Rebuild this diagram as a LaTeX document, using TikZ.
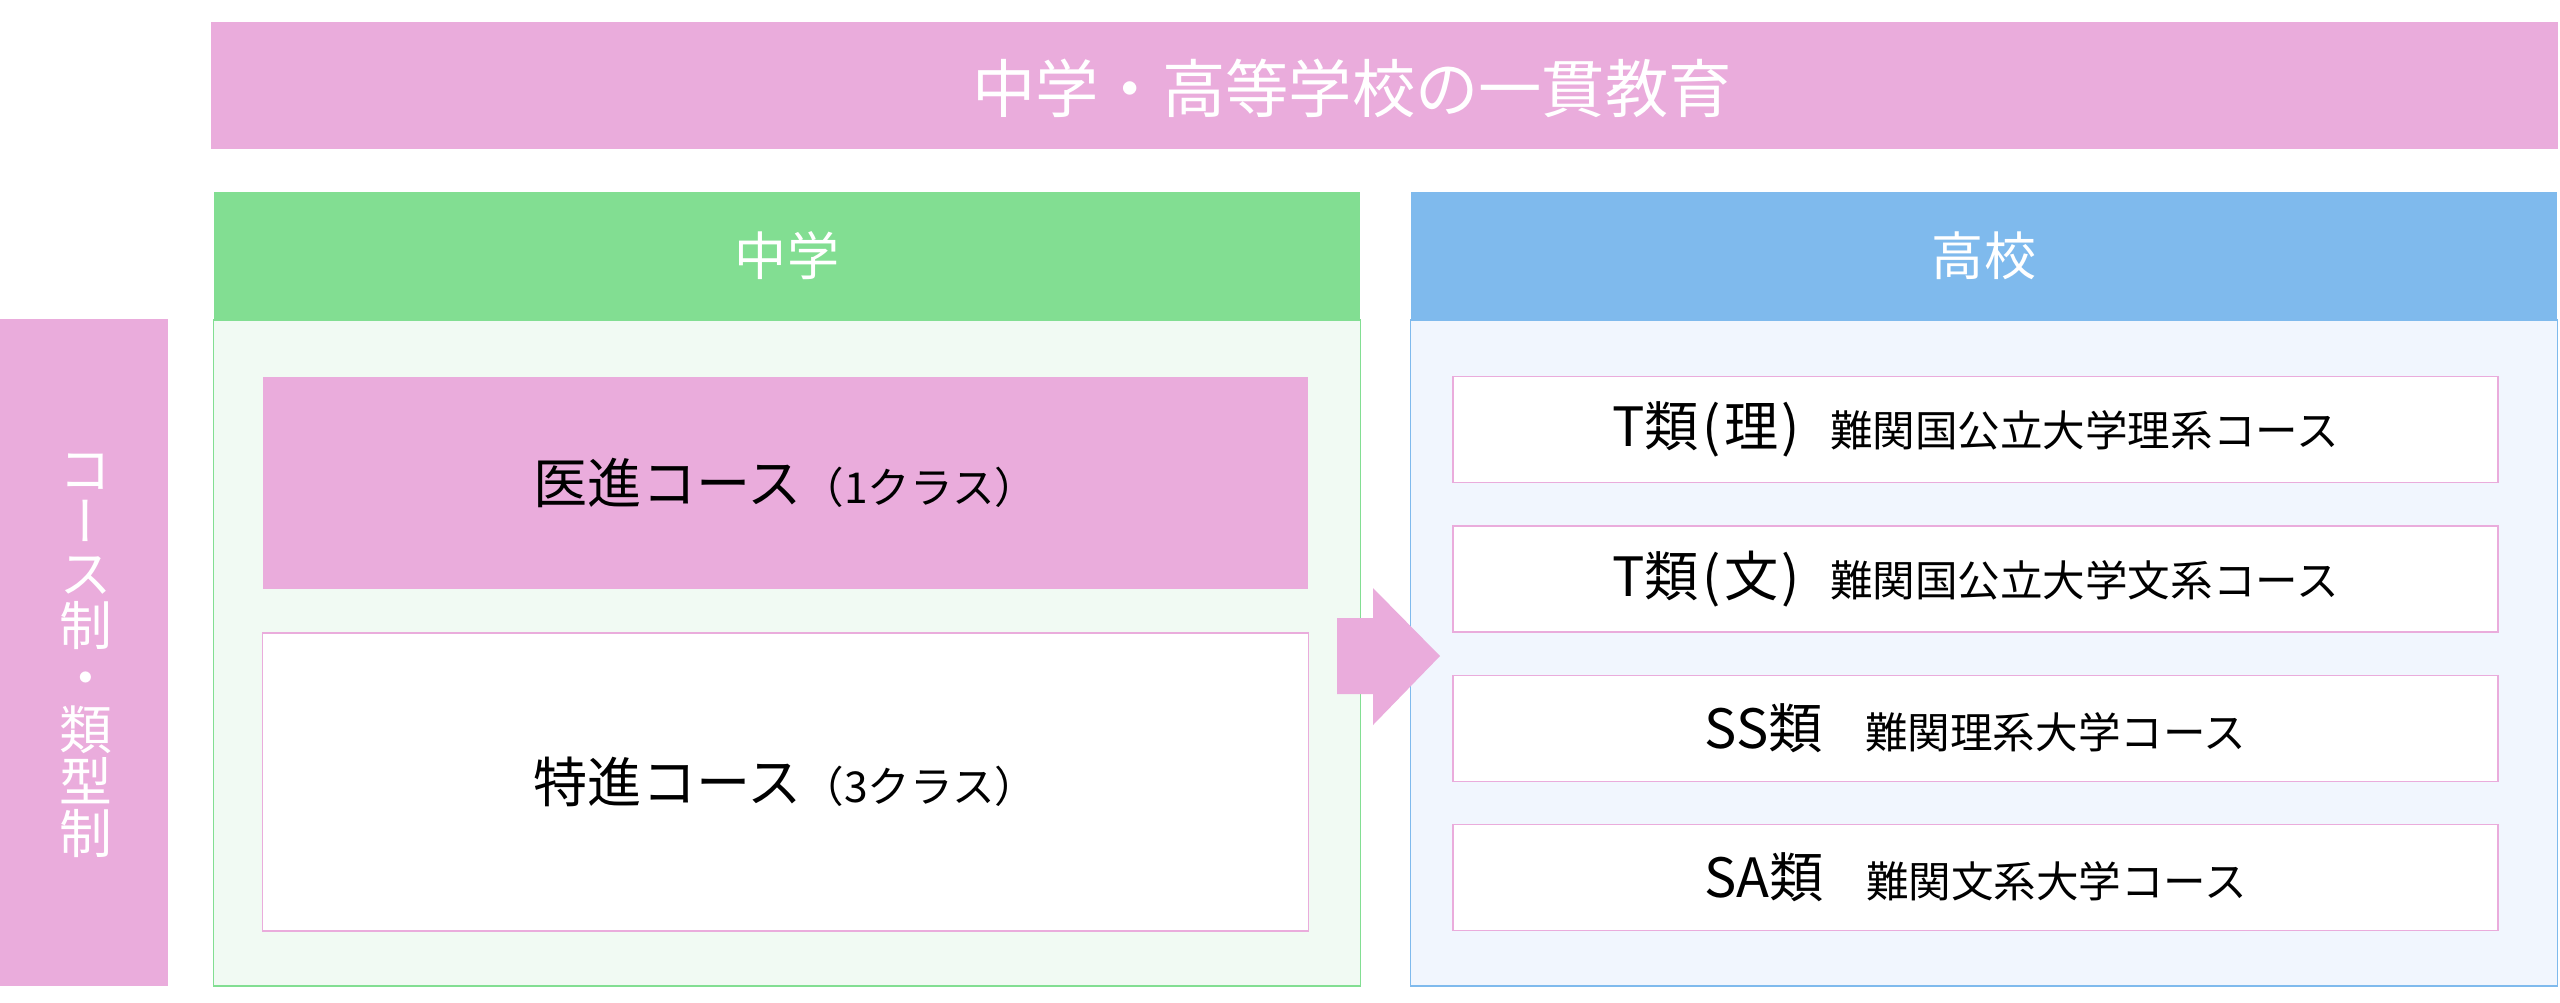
\documentclass[tikz,border=0pt]{standalone}
\usepackage{fontspec}
\setmainfont{Noto Sans CJK JP}
\newfontfamily\jpvert{Noto Sans CJK JP}[RawFeature=+vert]
\definecolor{pk}{HTML}{EAACDC}
\definecolor{gn}{HTML}{82DE92}
\definecolor{gnbg}{HTML}{F1FAF3}
\definecolor{bl}{HTML}{7FBAED}
\definecolor{blbg}{HTML}{F1F6FE}
\newcommand\fTitle{\fontsize{18}{20}\selectfont}
\newcommand\fHead{\fontsize{14.8}{17}\selectfont}
\newcommand\fBig{\fontsize{15.4}{18}\selectfont}
\newcommand\fSmall{\fontsize{12.1}{14}\selectfont}
\begin{document}
\begin{tikzpicture}[x=0.01cm,y=-0.01cm,
  rect/.style={inner sep=0pt,outer sep=0pt,anchor=center},
  band/.style={rect,minimum width=11.46cm,minimum height=1.28cm,text=white,font=\fHead},
  body/.style={rect,line width=0.45pt,minimum width=11.46cm,minimum height=6.66cm},
  course/.style={rect,minimum width=10.45cm,font=\fBig},
  rbox/.style={rect,fill=white,draw=pk,line width=0.5pt,minimum width=10.45cm,minimum height=1.06cm,font=\fBig}]
\fill[white] (0,0) rectangle (2560,1002);
\useasboundingbox (0,0) rectangle (2560,1002);
% top banner
\node[rect,fill=pk,minimum width=23.45cm,minimum height=1.27cm] (banner) at (1384.5,85.5) {};
\node[text=white,font=\fTitle,inner sep=0pt] (title) at (1352,88) {中学・高等学校の一貫教育};
% side bar
\node[rect,fill=pk,minimum width=1.68cm,minimum height=6.67cm] (side) at (84,652.5) {};
\node[text=white,inner sep=0pt,align=center,font=\jpvert\fontsize{15}{14.8}\selectfont] (sidetext) at (86,656)
  {コ\\ー\\ス\\制\\・\\類\\型\\制};
% junior high
\node[body,fill=gnbg,draw=gn] (gb) at (787,653) {};
\node[band,fill=gn] (gh) at (787,256) {中学};
\node[course,fill=pk,minimum height=2.12cm] (ishin) at (785.5,483) {医進コース{\fSmall （1クラス）}};
\node[course,fill=white,draw=pk,line width=0.45pt,minimum height=2.98cm] (tokushin) at (785.5,782) {特進コース{\fSmall （3クラス）}};
% high school
\node[body,fill=blbg,draw=bl] (bb) at (1984,653) {};
\node[band,fill=bl] (bh) at (1984,256) {高校};
\node[rbox] (r1) at (1975.5,429.5) {T類\kern1pt(\kern1pt理\kern1pt){\fSmall\hspace{0.7em}難関国公立大学理系コース}};
\node[rbox] (r2) at (1975.5,579) {T類\kern1pt(\kern1pt文\kern1pt){\fSmall\hspace{0.7em}難関国公立大学文系コース}};
\node[rbox] (r3) at (1975.5,728.5) {SS類{\fSmall　難関理系大学コース}};
\node[rbox] (r4) at (1975.5,877.5) {SA類{\fSmall　難関文系大学コース}};
% block arrow
\fill[pk] (1337,618) -- (1373,618) -- (1373,588) -- (1440,656) -- (1373,725) -- (1373,694) -- (1337,694) -- cycle;
\end{tikzpicture}
\end{document}
